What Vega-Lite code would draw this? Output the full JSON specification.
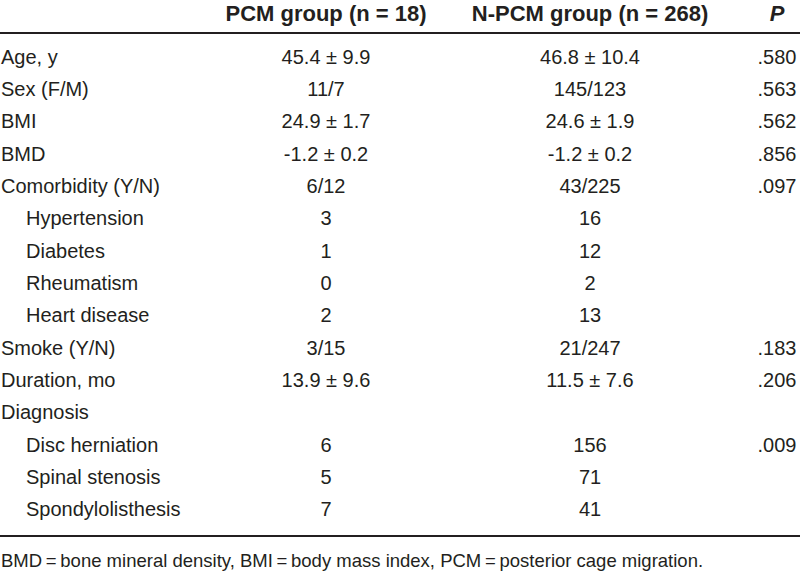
{
  "$schema": "https://vega.github.io/schema/vega-lite/v6.json",
  "width": 800,
  "height": 576,
  "autosize": "none",
  "padding": 0,
  "background": "white",
  "view": {"stroke": null},
  "config": {"text": {"font": "Liberation Sans", "color": "#231f20", "fontSize": 20, "baseline": "middle"}},
  "datasets": {
    "rows": [
      {"row": 1, "label": "Age, y", "level": "main", "pcm": "45.4 ± 9.9", "npcm": "46.8 ± 10.4", "p": ".580"},
      {"row": 2, "label": "Sex (F/M)", "level": "main", "pcm": "11/7", "npcm": "145/123", "p": ".563"},
      {"row": 3, "label": "BMI", "level": "main", "pcm": "24.9 ± 1.7", "npcm": "24.6 ± 1.9", "p": ".562"},
      {"row": 4, "label": "BMD", "level": "main", "pcm": "-1.2 ± 0.2", "npcm": "-1.2 ± 0.2", "p": ".856"},
      {"row": 5, "label": "Comorbidity (Y/N)", "level": "main", "pcm": "6/12", "npcm": "43/225", "p": ".097"},
      {"row": 6, "label": "Hypertension", "level": "sub", "pcm": "3", "npcm": "16", "p": ""},
      {"row": 7, "label": "Diabetes", "level": "sub", "pcm": "1", "npcm": "12", "p": ""},
      {"row": 8, "label": "Rheumatism", "level": "sub", "pcm": "0", "npcm": "2", "p": ""},
      {"row": 9, "label": "Heart disease", "level": "sub", "pcm": "2", "npcm": "13", "p": ""},
      {"row": 10, "label": "Smoke (Y/N)", "level": "main", "pcm": "3/15", "npcm": "21/247", "p": ".183"},
      {"row": 11, "label": "Duration, mo", "level": "main", "pcm": "13.9 ± 9.6", "npcm": "11.5 ± 7.6", "p": ".206"},
      {"row": 12, "label": "Diagnosis", "level": "main", "pcm": "", "npcm": "", "p": ""},
      {"row": 13, "label": "Disc herniation", "level": "sub", "pcm": "6", "npcm": "156", "p": ".009"},
      {"row": 14, "label": "Spinal stenosis", "level": "sub", "pcm": "5", "npcm": "71", "p": ""},
      {"row": 15, "label": "Spondylolisthesis", "level": "sub", "pcm": "7", "npcm": "41", "p": ""}
    ],
    "header": [
      {"row": 0, "pcm": "PCM group (n = 18)", "npcm": "N-PCM group (n = 268)", "p": "P"}
    ],
    "note": [
      {"text": "BMD\u2009=\u2009bone mineral density, BMI\u2009=\u2009body mass index, PCM\u2009=\u2009posterior cage migration."}
    ]
  },
  "layer": [
    {
      "data": {"values": [{}]},
      "mark": {"type": "rule", "strokeWidth": 2, "color": "#231f20"},
      "encoding": {
        "y": {"datum": 0.236, "type": "quantitative", "scale": {"domain": [-0.785, 17.037], "reverse": true, "nice": false, "zero": false}, "axis": null}
      }
    },
    {
      "data": {"values": [{}]},
      "mark": {"type": "rule", "strokeWidth": 2, "color": "#231f20"},
      "encoding": {
        "y": {"datum": 15.80, "type": "quantitative", "axis": null}
      }
    },
    {
      "data": {"name": "rows"},
      "transform": [{"filter": "datum.level === 'main'"}],
      "mark": {"type": "text", "align": "left", "dx": 1},
      "encoding": {
        "x": {"datum": 0, "type": "quantitative", "scale": {"domain": [0, 1, 2, 3], "range": [0, 326, 590, 777], "nice": false, "zero": false}, "axis": null},
        "y": {"field": "row", "type": "quantitative", "axis": null},
        "text": {"field": "label"}
      }
    },
    {
      "data": {"name": "rows"},
      "transform": [{"filter": "datum.level === 'sub'"}],
      "mark": {"type": "text", "align": "left", "dx": 26},
      "encoding": {
        "x": {"datum": 0, "type": "quantitative", "axis": null},
        "y": {"field": "row", "type": "quantitative", "axis": null},
        "text": {"field": "label"}
      }
    },
    {
      "data": {"name": "rows"},
      "mark": {"type": "text", "align": "center"},
      "encoding": {
        "x": {"datum": 1, "type": "quantitative", "axis": null},
        "y": {"field": "row", "type": "quantitative", "axis": null},
        "text": {"field": "pcm"}
      }
    },
    {
      "data": {"name": "rows"},
      "mark": {"type": "text", "align": "center"},
      "encoding": {
        "x": {"datum": 2, "type": "quantitative", "axis": null},
        "y": {"field": "row", "type": "quantitative", "axis": null},
        "text": {"field": "npcm"}
      }
    },
    {
      "data": {"name": "rows"},
      "mark": {"type": "text", "align": "center"},
      "encoding": {
        "x": {"datum": 3, "type": "quantitative", "axis": null},
        "y": {"field": "row", "type": "quantitative", "axis": null},
        "text": {"field": "p"}
      }
    },
    {
      "data": {"name": "header"},
      "mark": {"type": "text", "align": "center", "fontWeight": "bold", "fontSize": 22, "dy": -11.6},
      "encoding": {
        "x": {"datum": 1, "type": "quantitative", "axis": null},
        "y": {"field": "row", "type": "quantitative", "axis": null},
        "text": {"field": "pcm"}
      }
    },
    {
      "data": {"name": "header"},
      "mark": {"type": "text", "align": "center", "fontWeight": "bold", "fontSize": 22, "dy": -11.6},
      "encoding": {
        "x": {"datum": 2, "type": "quantitative", "axis": null},
        "y": {"field": "row", "type": "quantitative", "axis": null},
        "text": {"field": "npcm"}
      }
    },
    {
      "data": {"name": "header"},
      "mark": {"type": "text", "align": "center", "fontWeight": "bold", "fontStyle": "italic", "fontSize": 22, "dy": -11.6},
      "encoding": {
        "x": {"datum": 3, "type": "quantitative", "axis": null},
        "y": {"field": "row", "type": "quantitative", "axis": null},
        "text": {"field": "p"}
      }
    },
    {
      "data": {"name": "note"},
      "mark": {"type": "text", "align": "left", "fontSize": 18.5, "dx": 1},
      "encoding": {
        "x": {"datum": 0, "type": "quantitative", "axis": null},
        "y": {"datum": 16.572, "type": "quantitative", "axis": null},
        "text": {"field": "text"}
      }
    }
  ]
}
